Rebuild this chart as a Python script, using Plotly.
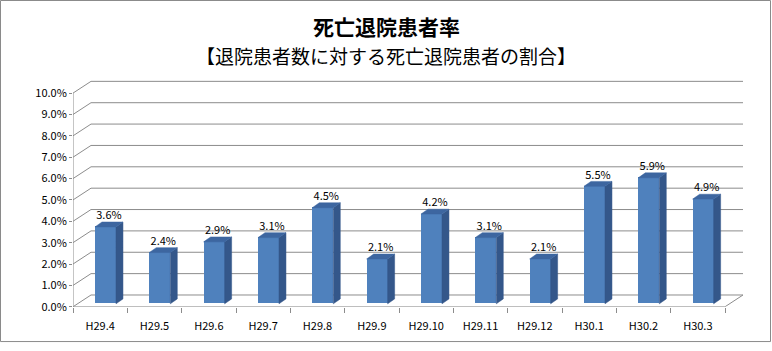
import plotly.graph_objects as go

# ---- data ----
categories = ["H29.4", "H29.5", "H29.6", "H29.7", "H29.8", "H29.9",
              "H29.10", "H29.11", "H29.12", "H30.1", "H30.2", "H30.3"]
rates = [3.6, 2.4, 2.9, 3.1, 4.5, 2.1, 4.2, 3.1, 2.1, 5.5, 5.9, 4.9]
y_ticks = [0, 1, 2, 3, 4, 5, 6, 7, 8, 9, 10]
y_ticklabels = [f"{v:.1f}%" for v in y_ticks]
title = "死亡退院患者率"
subtitle = "【退院患者数に対する死亡退院患者の割合】"

# ---- geometry (pixels -> axis units) ----
W, H = 772, 351
n = len(categories)
X_LEFT, X_RIGHT_FRONT, X_RIGHT_BACK = 73, 725, 745
Y_ZERO, Y_TEN, Y_TOP = 313, 95, 78
U = (X_RIGHT_FRONT - X_LEFT) / n          # px per category
V = (Y_ZERO - Y_TEN) / 10.0               # px per percent
DX, DY = 18 / U, 12 / V                   # back wall offset
BAR_OFF, BAR_W = 5.3 / U, 21 / U          # bar front face shift & width
BASE = 3 / V                              # bar baseline raise
BDX, BDY = 7 / U, 5 / V                   # bar depth offset

FRONT = "#4F81BD"
SIDE = "#34578a"
TOP = "#3d66a0"
GRID = "#8c8c8c"
FONT = "Noto Sans CJK JP"

xs = list(range(n))
centers = [x + BAR_OFF for x in xs]

fig = go.Figure()

# side faces
sx, sy = [], []
for c, v in zip(centers, rates):
    r = c + BAR_W / 2
    sx += [r, r, r + BDX, r + BDX, r, None]
    sy += [BASE, BASE + v, BASE + v + BDY, BASE + BDY, BASE, None]
fig.add_trace(go.Scatter(x=sx, y=sy, fill="toself", fillcolor=SIDE, mode="lines",
                         line=dict(width=0.5, color=SIDE), hoverinfo="skip", showlegend=False))
# top faces
tx, ty = [], []
for c, v in zip(centers, rates):
    l, r = c - BAR_W / 2, c + BAR_W / 2
    tx += [l, r, r + BDX, l + BDX, l, None]
    ty += [BASE + v, BASE + v, BASE + v + BDY, BASE + v + BDY, BASE + v, None]
fig.add_trace(go.Scatter(x=tx, y=ty, fill="toself", fillcolor=TOP, mode="lines",
                         line=dict(width=0.5, color=TOP), hoverinfo="skip", showlegend=False))
# front faces
fig.add_trace(go.Bar(x=centers, y=rates, base=BASE, width=BAR_W,
                     marker=dict(color=FRONT, line=dict(width=0)), showlegend=False))
# data labels
fig.add_trace(go.Scatter(x=[c + BDX / 2 for c in centers],
                         y=[BASE + v + BDY for v in rates],
                         mode="text", text=[f"{v:.1f}%" for v in rates],
                         textposition="top center",
                         textfont=dict(size=11, color="#000", family=FONT),
                         showlegend=False, hoverinfo="skip"))

# walls / gridlines
shapes = []
x0, x1 = -0.5, n - 0.5
for k in y_ticks:
    shapes.append(dict(type="path", xref="x", yref="y", layer="below",
                       path=f"M{x0},{k} L{x0 + DX},{k + DY} L{x1 + DX},{k + DY}",
                       line=dict(color=GRID, width=1)))
shapes.append(dict(type="line", xref="x", yref="y", layer="below",
                   x0=x1, y0=0, x1=x1 + DX, y1=DY, line=dict(color=GRID, width=1)))
# front axis lines
shapes.append(dict(type="line", xref="x", yref="y", x0=x0, x1=x0, y0=0, y1=10,
                   line=dict(color=GRID, width=1), layer="below"))
shapes.append(dict(type="line", xref="x", yref="y", x0=x0, x1=x1, y0=0, y1=0,
                   line=dict(color=GRID, width=1), layer="below"))
# outer border
shapes.append(dict(type="rect", xref="paper", yref="paper", x0=0.5 / W, x1=1 - 1.5 / W,
                   y0=2.5 / H, y1=1 - 0.5 / H, line=dict(color="#8a8a8a", width=1)))

fig.update_layout(
    width=W, height=H, margin=dict(l=0, r=0, t=0, b=0),
    paper_bgcolor="white", plot_bgcolor="rgba(0,0,0,0)",
    shapes=shapes, bargap=0,
    font=dict(family=FONT, size=11, color="#000"),
    annotations=[
        dict(text=f"<b>{title}</b>", xref="paper", yref="paper", x=0.5, y=1 - 27 / H,
             showarrow=False, font=dict(size=21, family=FONT, color="#000"),
             xanchor="center", yanchor="middle"),
        dict(text=subtitle, xref="paper", yref="paper", x=0.5, y=1 - 57 / H,
             showarrow=False, font=dict(size=19, family=FONT, color="#000"),
             xanchor="center", yanchor="middle"),
    ],
    xaxis=dict(domain=[X_LEFT / W, X_RIGHT_BACK / W],
               range=[-0.5, -0.5 + (X_RIGHT_BACK - X_LEFT) / U],
               tickmode="array", tickvals=xs, ticktext=categories,
               ticks="", showgrid=False, zeroline=False,
               showline=False, ticklabelstandoff=11,
               tickfont=dict(size=11, family=FONT),
               minor=dict(tickmode="array", tickvals=[i - 0.5 for i in range(n + 1)],
                          ticks="outside", ticklen=5, tickcolor=GRID, showgrid=False)),
    yaxis=dict(domain=[(H - Y_ZERO) / H, (H - Y_TOP) / H],
               range=[0, (Y_ZERO - Y_TOP) / V],
               tickmode="array", tickvals=y_ticks, ticktext=y_ticklabels,
               ticks="outside", ticklen=3, tickcolor=GRID,
               showgrid=False, zeroline=False, showline=False,
               tickfont=dict(size=11, family=FONT)),
)

fig.write_html("out.html")
